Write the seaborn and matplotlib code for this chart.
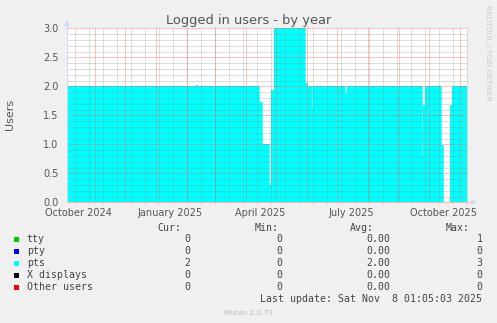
import matplotlib
matplotlib.use("Agg")
import matplotlib.pyplot as plt
import matplotlib.dates as mdates
from matplotlib.patches import Rectangle
import seaborn as sns
import pandas as pd

# ---------------- data ----------------
seg_start = ["2024-10-04", "2025-02-10", "2025-02-11", "2025-04-14", "2025-04-17",
             "2025-04-24", "2025-04-26", "2025-04-29", "2025-05-30", "2025-06-01",
             "2025-06-06", "2025-06-07", "2025-07-09", "2025-07-11", "2025-09-24",
             "2025-09-25", "2025-09-27", "2025-10-13", "2025-10-15", "2025-10-22",
             "2025-10-24"]
pts_users = [2.0, 2.03, 2.0, 1.73, 1.0,
             0.3, 1.93, 3.0, 2.05, 2.0,
             1.64, 2.0, 1.89, 2.0, 0.78,
             1.68, 2.0, 0.99, 0.0, 1.68,
             2.0]
range_start = "2024-10-04"
range_end = "2025-11-08"

x_label_dates = ["2024-10-15", "2025-01-15", "2025-04-15", "2025-07-15", "2025-10-15"]
x_labels = ["October 2024", "January 2025", "April 2025", "July 2025", "October 2025"]
y_ticks = [0.0, 0.5, 1.0, 1.5, 2.0, 2.5, 3.0]

legend_names = ["tty", "pty", "pts", "X displays", "Other users"]
legend_colors = ["#00CC00", "#0000FF", "#00FFFF", "#000000", "#FF0000"]
cur_vals = [0, 0, 2, 0, 0]
min_vals = [0, 0, 0, 0, 0]
avg_vals = [0.00, 0.00, 2.00, 0.00, 0.00]
max_vals = [1, 0, 3, 0, 0]
last_update = "Last update: Sat Nov  8 01:05:03 2025"

# ---------------- style ----------------
sns.set_theme(style="white")
plt.rcParams["font.family"] = ["DejaVu Sans"]

W, H = 497, 323
fig = plt.figure(figsize=(W / 100, H / 100), dpi=100, facecolor="#F0F0F0")
ax = fig.add_axes([67 / W, 1 - 202.3 / H, 400 / W, 174 / H])
ax.set_facecolor("white")

x = pd.to_datetime(seg_start + [range_end])
y = pts_users + [pts_users[-1]]
df = pd.DataFrame({"date": x, "users": y})

ax.fill_between(df["date"], df["users"], 0, step="post", color="#00FFFF",
                linewidth=0, zorder=1)
sns.lineplot(data=df, x="date", y="users", drawstyle="steps-post",
             color="#00FFFF", linewidth=0.5, ax=ax, zorder=1.5)

ax.set_xlim(pd.Timestamp(range_start), pd.Timestamp(range_end))
ax.set_ylim(0, 3.0)

# grid (RRDtool dotted grid rendered as its average tone)
gray = "#8C8C8C"
red = "#FF5A5A"
a_gray = 0.28
a_red = 0.36
px = 0.72

ax.set_yticks(y_ticks)
ax.set_yticklabels([f"{v:.1f}" for v in y_ticks])
ax.set_yticks([i / 10 for i in range(31) if i % 5], minor=True)
ax.set_axisbelow(False)
ax.grid(which="major", axis="y", color=red, alpha=a_red, linestyle="-", linewidth=px)
ax.grid(which="minor", axis="y", color=gray, alpha=a_gray, linestyle="-", linewidth=px)

ax.set_xticks(pd.to_datetime(x_label_dates))
ax.set_xticklabels(x_labels)
month_starts = pd.date_range("2024-11-01", "2025-11-01", freq="MS")
ax.set_xticks(month_starts, minor=True)
ax.grid(which="minor", axis="x", color=red, alpha=a_red, linestyle="-", linewidth=px)
ax.grid(which="major", axis="x", visible=False)

biweekly = pd.date_range("2024-10-12", range_end, freq="14D")
ax.vlines(biweekly, -0.012, 1.0, transform=ax.get_xaxis_transform(),
          colors=gray, alpha=a_gray, linestyles="-", linewidth=px, zorder=2.4,
          clip_on=False)

ax.tick_params(axis="x", which="major", length=0, pad=4, labelsize=7, labelcolor="#555555")
ax.tick_params(axis="x", which="minor", length=2, width=px, color="#F4A8A8", direction="out")
ax.tick_params(axis="y", which="major", length=2, width=px, color="#F4A8A8", pad=4,
               labelsize=7, labelcolor="#555555")
ax.tick_params(axis="y", which="minor", length=2, width=px, color="#D0D0D0")
ax.set_xlabel("")
ax.set_ylabel("")

for s in ax.spines.values():
    s.set_visible(False)
axis_col = "#CFD6F8"
ax.plot([0, 0], [0, 1.03], transform=ax.transAxes, color=axis_col, lw=px,
        clip_on=False, zorder=3)
ax.plot([0, 1.0075], [0, 0], transform=ax.transAxes, color="#F4B8B8", lw=px,
        clip_on=False, zorder=2.9)
ax.plot([0], [1.03], transform=ax.transAxes, marker="^", ms=4, color=axis_col,
        clip_on=False, zorder=3, markeredgewidth=0)
ax.plot([1.0175], [0], transform=ax.transAxes, marker=">", ms=4, color=axis_col,
        clip_on=False, zorder=3, markeredgewidth=0)

# titles
fig.text(248.5 / W, 1 - 24.3 / H, "Logged in users - by year", ha="center",
         va="baseline", fontsize=9.4, color="#555555")
fig.text(10.5 / W, 1 - 114.5 / H, "Users", rotation=90, ha="center", va="center",
         fontsize=8, color="#555555")
fig.text(488 / W, 1 - 53 / H, "RRDTOOL / TOBI OETIKER", rotation=270, ha="center",
         va="center", fontsize=5.4, color="#C8C8C8")

# legend
mono = dict(family="DejaVu Sans Mono", fontsize=7.1, color="#444444")
hdr_y = 228.3
fig.text(181 / W, 1 - hdr_y / H, "Cur:", ha="right", va="center", **mono)
fig.text(278.3 / W, 1 - hdr_y / H, "Min:", ha="right", va="center", **mono)
fig.text(374 / W, 1 - hdr_y / H, "Avg:", ha="right", va="center", **mono)
fig.text(470 / W, 1 - hdr_y / H, "Max:", ha="right", va="center", **mono)
row_y = [239.5, 251.3, 263.3, 275.5, 287.3]
for i, name in enumerate(legend_names):
    yy = 1 - row_y[i] / H
    fig.patches.append(Rectangle((14 / W, 1 - (row_y[i] + 2.7) / H), 5.3 / W, 5.3 / H,
                                 transform=fig.transFigure, color=legend_colors[i],
                                 linewidth=0))
    fig.text(26.7 / W, yy, name, ha="left", va="center", **mono)
    fig.text(190 / W, yy, f"{cur_vals[i]:d}", ha="right", va="center", **mono)
    fig.text(282.7 / W, yy, f"{min_vals[i]:d}", ha="right", va="center", **mono)
    fig.text(390.7 / W, yy, f"{avg_vals[i]:.2f}", ha="right", va="center", **mono)
    fig.text(482.3 / W, yy, f"{max_vals[i]:d}", ha="right", va="center", **mono)
fig.text(482.3 / W, 1 - 299.3 / H, last_update, ha="right", va="center", **mono)
fig.text(248 / W, 1 - 312.7 / H, "Munin 2.0.73", ha="center", va="center",
         fontsize=5.4, color="#BBBBBB")

fig.savefig("out.png", dpi=100, facecolor=fig.get_facecolor())
